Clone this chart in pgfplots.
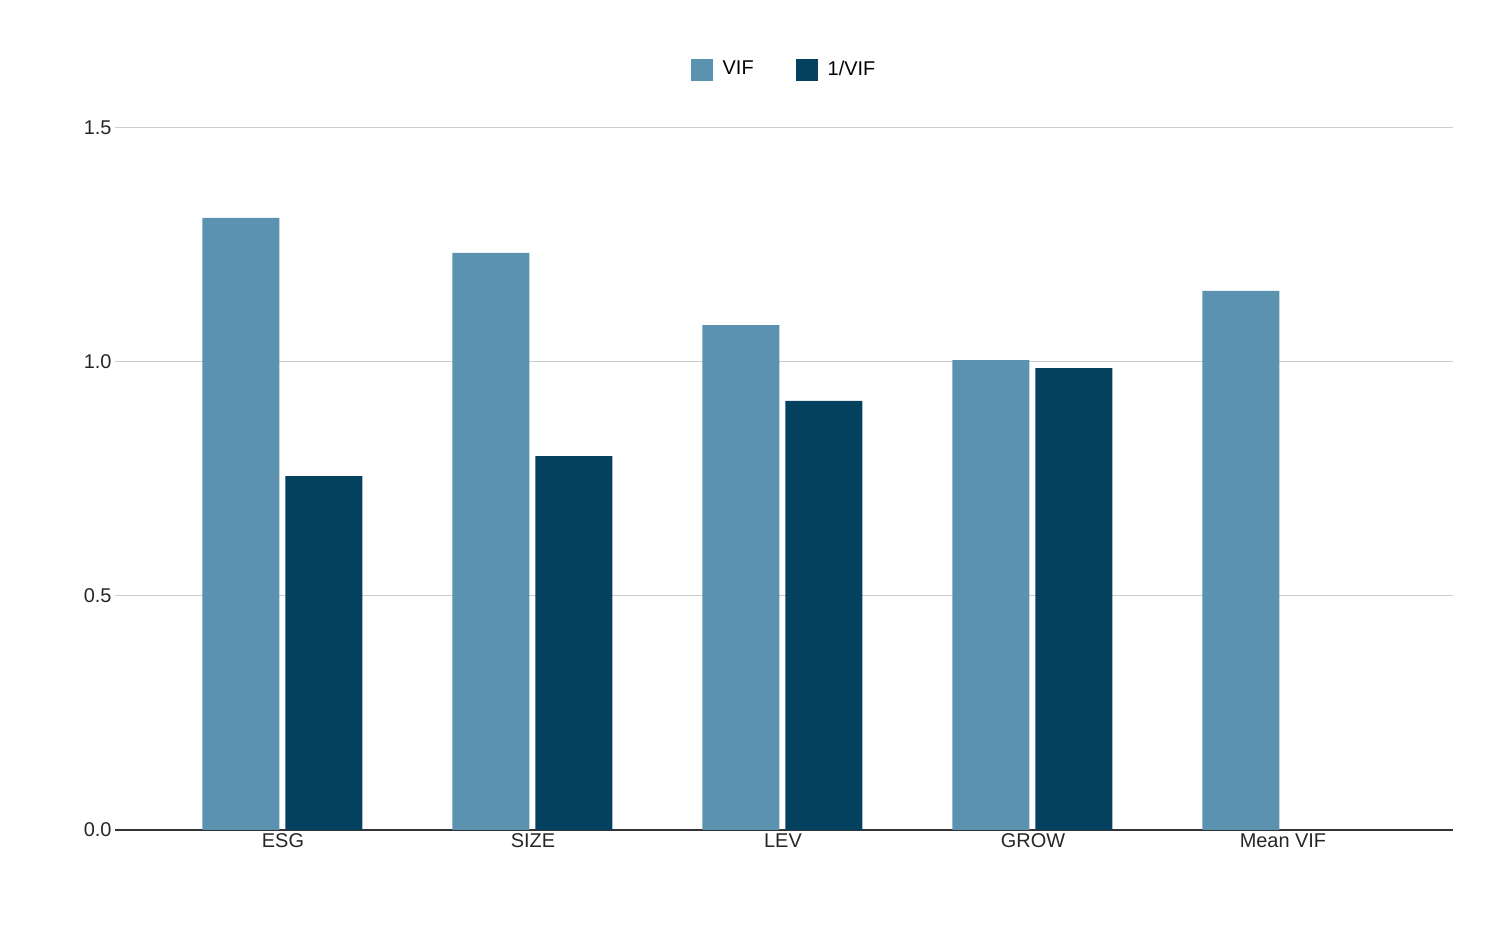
\documentclass[border=0pt]{standalone}
\usepackage{pgfplots}
\pgfplotsset{compat=1.18}
\usepackage{fontspec}
\setmainfont{Liberation Sans}
\definecolor{vif}{HTML}{5A92B0}
\definecolor{inv}{HTML}{03415E}
\begin{document}
\begin{tikzpicture}
\path (-115bp,-98bp) rectangle (1385bp,830bp);
\begin{axis}[
  at={(0,0)}, anchor=south west,
  scale only axis, width=1338bp, height=702bp,
  xmin=-0.672, xmax=4.68, ymin=0, ymax=1.5,
  ytick={0,0.5,1,1.5},
  yticklabel style={/pgf/number format/.cd,fixed,fixed zerofill,precision=1},
  /pgf/number format/assume math mode=true,
  xtick={0,1,2,3,4},
  xticklabels={ESG,SIZE,LEV,GROW,Mean VIF},
  tick label style={font=\fontsize{20}{24}\selectfont, text=black!85},
  major tick length=0pt,
  ymajorgrids, grid style={gray!40, line width=1pt},
  axis line style={draw=none},
  extra y ticks={0}, extra y tick labels={},
  extra y tick style={grid style={black!80,line width=1.2pt}},
  legend style={at={(0.5,1)}, anchor=south, yshift=45bp, draw=none, legend columns=2,
    font=\fontsize{20}{24}\selectfont,
    /tikz/every odd column/.append style={column sep=8bp},
    /tikz/every even column/.append style={column sep=40bp}},
  ybar, bar width=0.308,
  legend image code/.code={\fill[#1] (0bp,-12bp) rectangle (22bp,10bp);},
]
\addplot[fill=vif, draw=none, bar shift=-0.168] coordinates {(0,1.308) (1,1.233) (2,1.079) (3,1.004) (4,1.152)};
\addplot[fill=inv, draw=none, bar shift=0.164] coordinates {(0,0.756) (1,0.799) (2,0.917) (3,0.987)};
\legend{VIF,1/VIF}
\end{axis}
\end{tikzpicture}
\end{document}
